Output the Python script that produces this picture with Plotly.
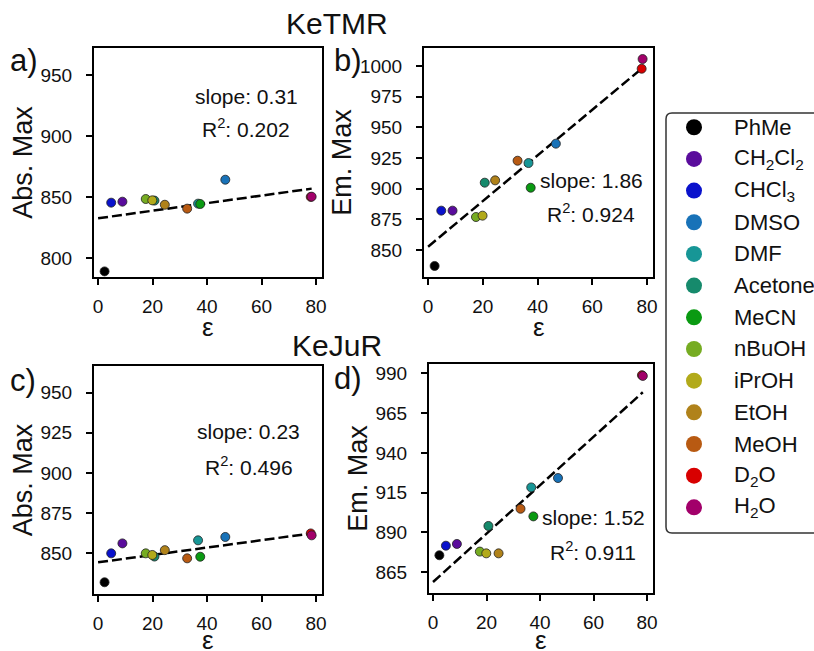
import plotly.graph_objects as go

# ---- data -------------------------------------------------------------
solvents = ["PhMe", "CH<sub>2</sub>Cl<sub>2</sub>", "CHCl<sub>3</sub>", "DMSO", "DMF",
            "Acetone", "MeCN", "nBuOH", "iPrOH", "EtOH", "MeOH",
            "D<sub>2</sub>O", "H<sub>2</sub>O"]
colors = ["#000000", "#5a0c9c", "#0a12cc", "#1872b8", "#179696", "#168a6c",
          "#0a9a12", "#76ac22", "#b2aa1a", "#b0821a", "#b85a12", "#d80000",
          "#a2006a"]
epsilon = [2.38, 8.93, 4.81, 46.7, 36.7, 20.7, 37.5, 17.5, 19.9, 24.5, 32.7,
           78.06, 78.4]

ketmr_abs = [789.0, 846.1, 845.3, 864.1, 844.5, 847.0, 844.2, 848.3, 847.2,
             843.6, 840.4, 850.0, 850.2]
ketmr_em = [837.0, 882.1, 882.1, 936.7, 920.9, 904.9, 900.8, 876.9, 878.0,
            906.8, 922.8, 997.8, 1005.7]
kejur_abs = [832.0, 856.2, 850.0, 860.2, 858.1, 848.0, 847.9, 850.0, 849.0,
             852.0, 846.9, 862.4, 861.2]
kejur_em = [875.7, 882.8, 881.7, 924.2, 918.3, 894.1, 900.1, 878.0, 876.9,
            876.9, 904.9, 988.8, 988.3]

fit_slopes = [0.31, 1.86, 0.23, 1.52]
fit_intercepts = [832.5, 852.7, 844.4, 858.9]
fit_r2 = ["0.202", "0.924", "0.496", "0.911"]

panel_letters = ["a)", "b)", "c)", "d)"]
y_titles = ["Abs. Max", "Em. Max", "Abs. Max", "Em. Max"]
x_title = "ε"
group_titles = ["KeTMR", "KeJuR"]

# ---- layout helpers ---------------------------------------------------
W, H = 814, 651
FONT = "Liberation Sans, Arial, sans-serif"


def fx(p):
    return p / W


def fy(p):
    return 1 - p / H


# panel boxes in pixels: (left, right, top, bottom)
boxes = [(94, 322, 48, 277), (424, 653, 48, 277),
         (94, 322, 366, 594), (429, 653, 364, 593)]
y_ranges = [[784.4, 972.0], [828.0, 1014.7], [824.7, 966.6], [852.0, 995.8]]
y_ticks = [[800, 850, 900, 950], [850, 875, 900, 925, 950, 975, 1000],
           [850, 875, 900, 925, 950], [865, 890, 915, 940, 965, 990]]
x_range = [-1.5, 82.2]
series = [ketmr_abs, ketmr_em, kejur_abs, kejur_em]
# text positions within each panel (axis-domain fractions)
slope_pos = [(0.668, 0.79, 0.65), (0.73, 0.42, 0.28),
             (0.678, 0.714, 0.563), (0.733, 0.331, 0.184)]
# vertical pixel centre of the ε title under each panel
x_title_py = [327, 327, 640, 640]

fig = go.Figure()
annotations = []

for i in range(4):
    n = i + 1
    xa = "x" if n == 1 else f"x{n}"
    ya = "y" if n == 1 else f"y{n}"
    l, r, t, b = boxes[i]

    # least-squares line
    x_end = max(epsilon)
    fig.add_trace(go.Scatter(
        x=[0, x_end],
        y=[fit_intercepts[i], fit_intercepts[i] + fit_slopes[i] * x_end],
        mode="lines", line=dict(color="black", width=2.5, dash="10px,4px"),
        xaxis=xa, yaxis=ya, showlegend=False, hoverinfo="skip"))

    # solvent points
    fig.add_trace(go.Scatter(
        x=epsilon, y=series[i], mode="markers",
        marker=dict(size=9, color=colors, line=dict(color="#222222", width=0.8)),
        text=solvents, xaxis=xa, yaxis=ya, showlegend=False))

    axis_common = dict(showline=True, linewidth=2, linecolor="black", mirror=True,
                       ticks="outside", ticklen=6, tickwidth=1.5, tickcolor="black",
                       showgrid=False, zeroline=False, automargin=False,
                       tickfont=dict(family=FONT, size=19, color="#111111"))
    fig.layout[f"xaxis{'' if n == 1 else n}"] = dict(
        domain=[fx(l), fx(r)], range=x_range, anchor=ya,
        tickvals=[0, 20, 40, 60, 80], ticklabelstandoff=5,
        **axis_common)
    fig.layout[f"yaxis{'' if n == 1 else n}"] = dict(
        domain=[fy(b), fy(t)], range=y_ranges[i], anchor=xa,
        tickvals=y_ticks[i], ticklabelstandoff=10,
        title=dict(text=y_titles[i], font=dict(family=FONT, size=27, color="#111111"),
                   standoff=0),
        **axis_common)

    # ε title centred under the panel
    annotations.append(dict(
        text=x_title, x=0.5, y=fy(x_title_py[i]), xref=f"{xa} domain", yref="paper",
        xanchor="center", yanchor="middle", showarrow=False,
        font=dict(family=FONT, size=26, color="#111111")))

    sx, sy1, sy2 = slope_pos[i]
    annotations.append(dict(
        text=f"slope: {fit_slopes[i]:.2f}", x=sx, y=sy1,
        xref=f"{xa} domain", yref=f"{ya} domain", xanchor="center",
        yanchor="middle", showarrow=False,
        font=dict(family=FONT, size=21, color="#111111")))
    annotations.append(dict(
        text=f"R<sup>2</sup>: {fit_r2[i]}", x=sx, y=sy2,
        xref=f"{xa} domain", yref=f"{ya} domain", xanchor="center",
        yanchor="middle", showarrow=False,
        font=dict(family=FONT, size=21, color="#111111")))

# panel letters
letter_pos = [(8, 60), (332, 60), (8, 380), (332, 378)]
for letter, (px, py) in zip(panel_letters, letter_pos):
    annotations.append(dict(
        text=letter, x=fx(px), y=fy(py), xref="paper", yref="paper",
        xanchor="left", yanchor="middle", showarrow=False,
        font=dict(family=FONT, size=31, color="#111111")))

# group titles
for title, py in zip(group_titles, [24, 345]):
    annotations.append(dict(
        text=title, x=fx(336.5), y=fy(py), xref="paper", yref="paper",
        xanchor="center", yanchor="middle", showarrow=False,
        font=dict(family=FONT, size=30, color="#111111")))

# ---- legend (own axis: marker column at x=0, rows by solvent index) ----
leg_l, leg_t, leg_b = 666, 113, 533
fig.add_trace(go.Scatter(
    x=[0] * len(solvents), y=list(range(len(solvents))), mode="markers",
    marker=dict(size=16, color=colors), xaxis="x5", yaxis="y5",
    showlegend=False, hoverinfo="skip"))
fig.layout["xaxis5"] = dict(domain=[fx(leg_l), 1.0], range=[-28, 120], visible=False,
                            fixedrange=True, automargin=False)
fig.layout["yaxis5"] = dict(domain=[fy(leg_b), fy(leg_t)], range=[12.81, -0.45],
                            visible=False, fixedrange=True, automargin=False)
for k, name in enumerate(solvents):
    annotations.append(dict(
        text=name, x=38, y=k, xref="x5", yref="y5", xanchor="left",
        yanchor="middle", showarrow=False,
        font=dict(family=FONT, size=22, color="#111111")))

# rounded legend frame, open towards the right edge of the figure
rad = 6
x0, x1 = fx(leg_l), fx(leg_l + 170)
y0, y1 = fy(leg_b), fy(leg_t)
rx, ry = rad / W, rad / H
path = (f"M {x1},{y1} L {x0 + rx},{y1} Q {x0},{y1} {x0},{y1 - ry} "
        f"L {x0},{y0 + ry} Q {x0},{y0} {x0 + rx},{y0} L {x1},{y0}")
fig.add_shape(type="path", path=path, xref="paper", yref="paper",
              line=dict(color="#333333", width=1.5))

fig.update_layout(
    width=W, height=H, margin=dict(l=0, r=0, t=0, b=0, autoexpand=False),
    paper_bgcolor="white", plot_bgcolor="white",
    annotations=annotations, showlegend=False,
    font=dict(family=FONT, color="#111111"))

fig.write_html("out.html")
